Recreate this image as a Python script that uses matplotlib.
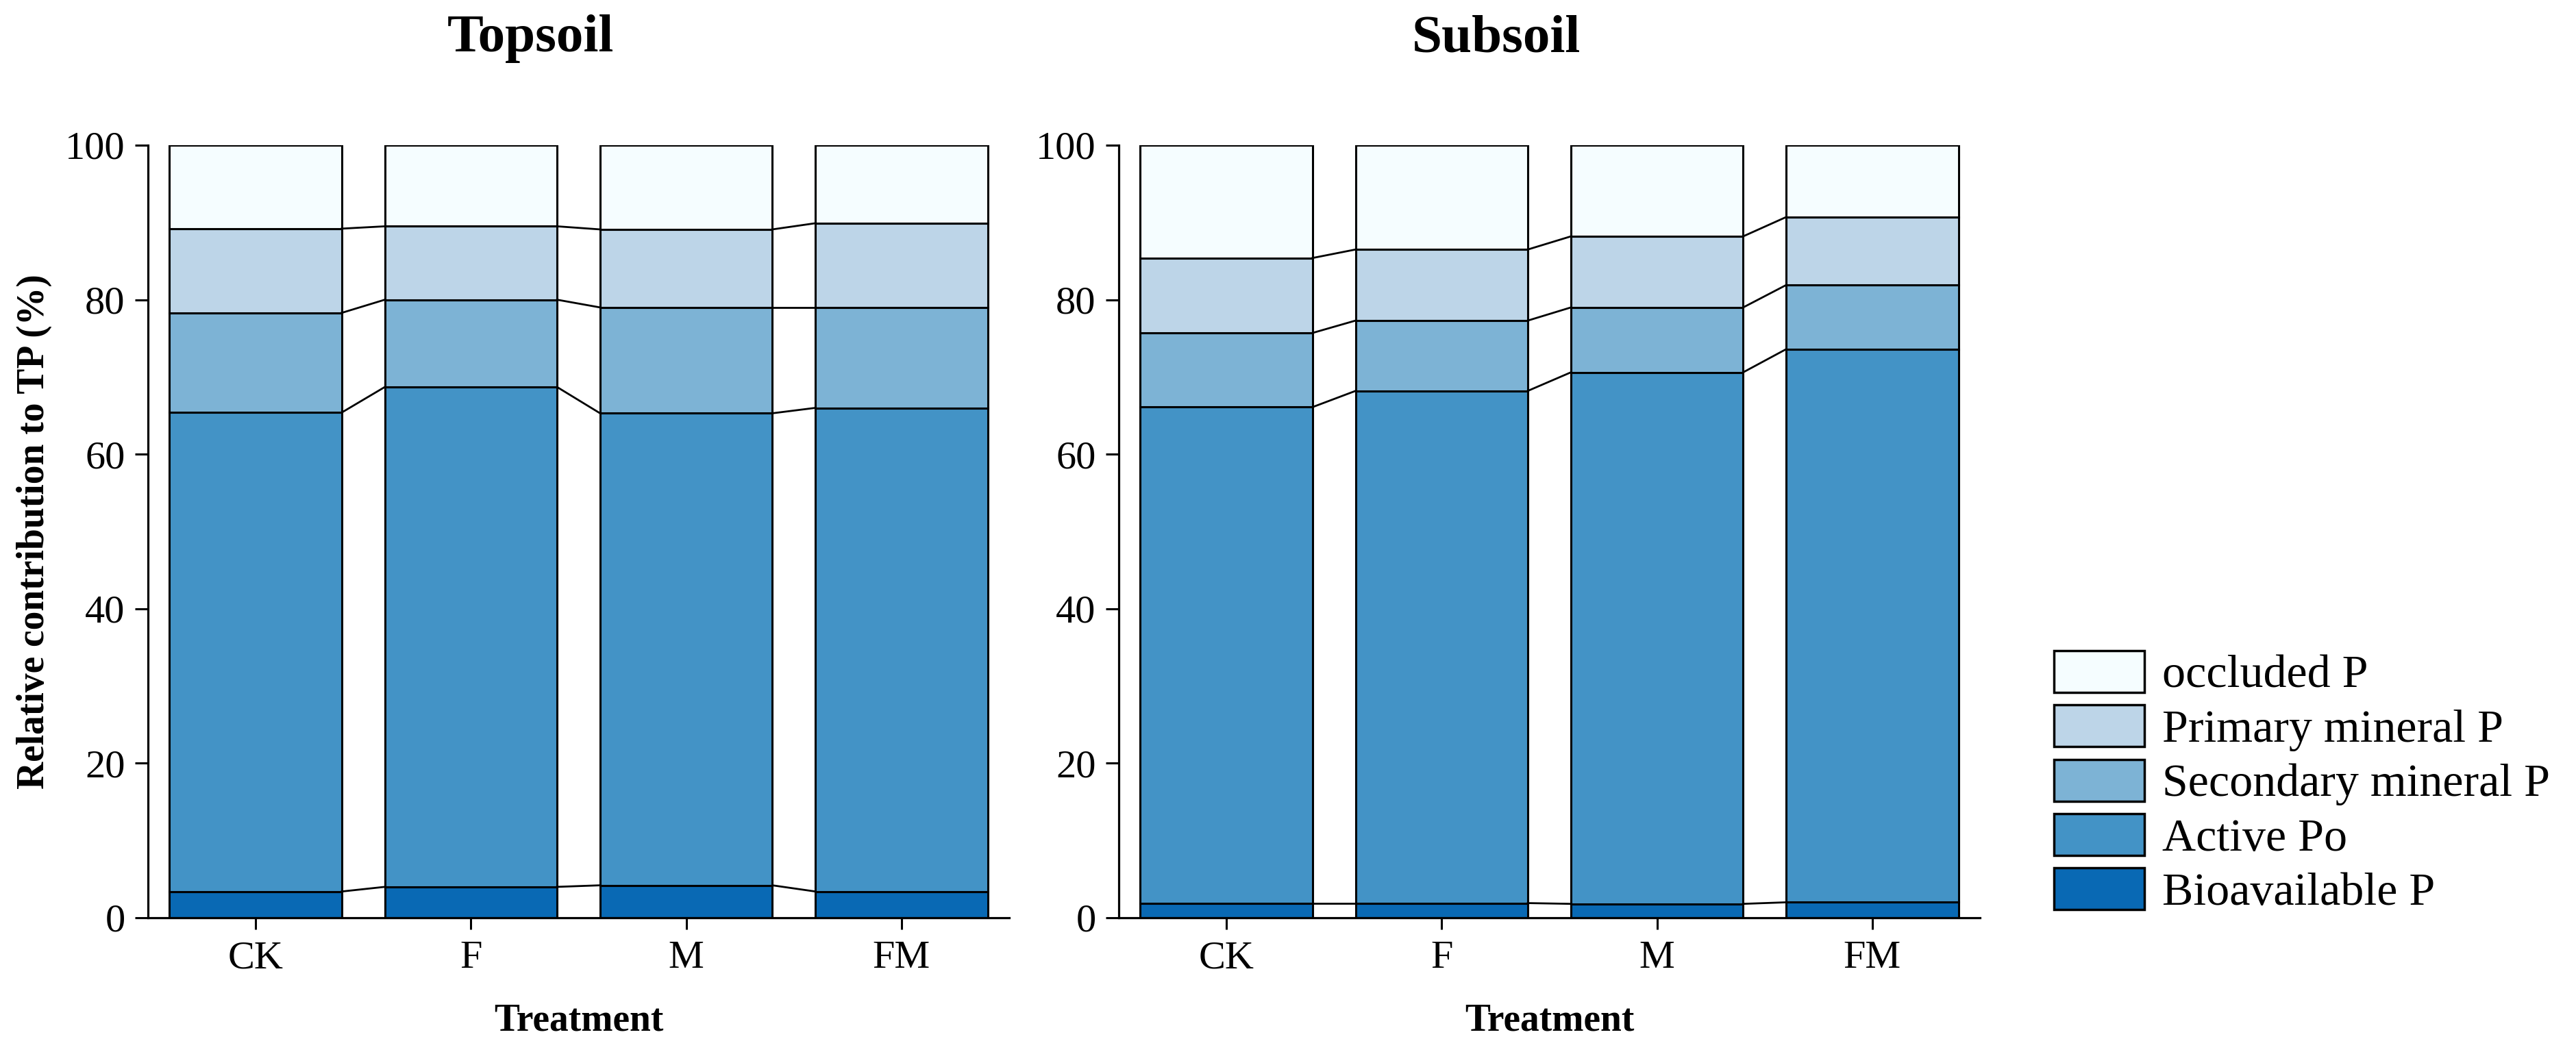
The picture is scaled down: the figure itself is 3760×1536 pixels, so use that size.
import numpy as np
import matplotlib
matplotlib.use("Agg")
import matplotlib.pyplot as plt
from matplotlib.patches import Patch

plt.rcParams['font.family'] = ['Liberation Serif', 'DejaVu Serif']

treatments = ["CK", "F", "M", "FM"]
fractions = ["Bioavailable P", "Active Po", "Secondary mineral P", "Primary mineral P", "occluded P"]
colors = ["#0969b4", "#4393c6", "#7db3d5", "#bdd5e8", "#f5fdff"]

# Topsoil (% of TP)
top_bioavailable = [3.4, 4.0, 4.2, 3.4]
top_active_po = [62.0, 64.7, 61.1, 62.6]
top_secondary = [12.9, 11.3, 13.7, 13.0]
top_primary = [10.9, 9.5, 10.1, 10.9]
top_occluded = [10.8, 10.5, 10.9, 10.1]

# Subsoil (% of TP)
sub_bioavailable = [1.9, 1.9, 1.8, 2.0]
sub_active_po = [64.2, 66.3, 68.8, 71.6]
sub_secondary = [9.6, 9.1, 8.4, 8.3]
sub_primary = [9.7, 9.2, 9.2, 8.8]
sub_occluded = [14.6, 13.5, 11.8, 9.3]

panels = [
    ("Topsoil", [top_bioavailable, top_active_po, top_secondary, top_primary, top_occluded]),
    ("Subsoil", [sub_bioavailable, sub_active_po, sub_secondary, sub_primary, sub_occluded]),
]

W, H = 3760, 1536
fig = plt.figure(figsize=(W / 100, H / 100), dpi=100)

ax_left = [216, 1633]
ax_w = 1257
ax_top, ax_bot = 212, 1340
title_x = [774, 2184]

bar_w = 0.8
for k, (title, series) in enumerate(panels):
    ax = fig.add_axes([ax_left[k] / W, 1 - ax_bot / H, ax_w / W, (ax_bot - ax_top) / H])
    x = np.arange(len(treatments))
    bottom = np.zeros(len(treatments))
    for vals, col, name in zip(series, colors, fractions):
        vals = np.asarray(vals, dtype=float)
        ax.bar(x, vals, bar_w, bottom=bottom, color=col, edgecolor="black",
               linewidth=2.2, label=name, zorder=2)
        bottom = bottom + vals
        if name != "occluded P":
            for i in range(len(x) - 1):
                ax.plot([x[i] + bar_w / 2, x[i + 1] - bar_w / 2],
                        [bottom[i], bottom[i + 1]], color="black", lw=2.0, zorder=3)
    ax.set_xlim(-0.5, len(x) - 0.5)
    ax.set_ylim(0, 100)
    ax.set_xticks(x)
    ax.set_xticklabels(treatments)
    ax.set_yticks([0, 20, 40, 60, 80, 100])
    for s in ["top", "right"]:
        ax.spines[s].set_visible(False)
    for s in ["left", "bottom"]:
        ax.spines[s].set_linewidth(2.3)
    ax.tick_params(axis="y", length=14, width=2.2, labelsize=42, pad=10)
    ax.tick_params(axis="x", length=12, width=2.2, labelsize=42, pad=12)
    ax.set_xlabel("Treatment", fontsize=40, fontweight="bold", labelpad=28)
    if k == 0:
        ax.set_ylabel("Relative contribution to TP (%)", fontsize=40, fontweight="bold")
        ax.yaxis.set_label_coords(-(216 - 76) / ax_w, 0.5)
    fig.text(title_x[k] / W, 1 - 57 / H, title, fontsize=57, fontweight="bold",
             ha="center", va="center")

handles = [Patch(facecolor=c, edgecolor="black", linewidth=2.5) for c in colors]
labels = list(fractions)
fig.legend(handles[::-1], labels[::-1], loc="upper left",
           bbox_to_anchor=(2998 / W, 1 - 950 / H), frameon=False,
           fontsize=49, handlelength=1.94, handleheight=1.0,
           handletextpad=0.38, labelspacing=0.17, borderpad=0, borderaxespad=0)

fig.savefig("out.png", dpi=100)
